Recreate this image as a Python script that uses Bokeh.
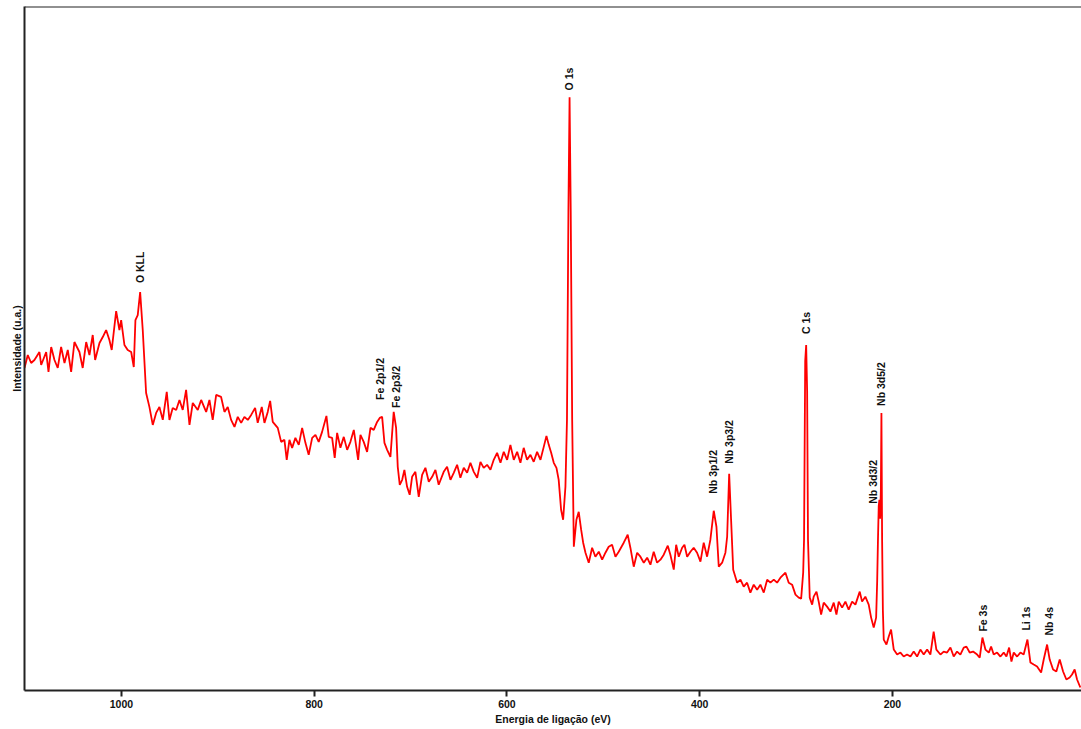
import math
from bokeh.plotting import figure
from bokeh.models import Range1d, FixedTicker, Span
from bokeh.core.properties import value
from bokeh.embed import file_html
from bokeh.resources import INLINE

# Binding energy (eV) and intensity (a.u.)
energy = [
    1100.6, 1097.2, 1093.7, 1090.3, 1085.1, 1083.3, 1078.1, 1075.7, 1072.9, 1069.5,
    1066.1, 1062.6, 1059.1, 1055.7, 1052.2, 1048.8, 1043.6, 1040.2, 1036.6, 1033.2,
    1029.8, 1027.3, 1022.8, 1019.4, 1015.9, 1012.5, 1010.1, 1005.5, 1002.1, 1000.3,
    996.9, 993.5, 989.9, 987.2, 985.5, 983.1, 980.6, 977.9, 974.4, 971.0,
    967.5, 964.0, 960.6, 957.1, 953.0, 950.2, 946.8, 943.2, 939.8, 936.4,
    932.9, 929.4, 926.0, 920.8, 917.3, 912.1, 908.7, 905.3, 901.7, 896.6,
    893.1, 889.7, 886.2, 882.7, 879.3, 875.8, 872.4, 868.9, 865.4, 861.3,
    858.6, 854.4, 851.6, 848.2, 845.7, 843.0, 837.8, 834.3, 830.9, 828.5,
    825.7, 822.9, 819.5, 816.0, 812.5, 809.1, 805.7, 802.1, 798.7, 795.3,
    791.8, 787.3, 784.9, 781.4, 778.7, 776.2, 772.8, 769.3, 765.8, 762.4,
    758.9, 754.4, 752.0, 748.6, 745.1, 741.6, 738.2, 734.7, 732.0, 729.5,
    727.1, 724.3, 720.9, 719.1, 717.5, 715.0, 713.3, 711.2, 708.7, 706.4,
    703.6, 700.9, 698.4, 695.0, 691.5, 688.0, 684.6, 681.1, 677.6, 674.2,
    670.8, 665.6, 662.1, 658.6, 655.2, 651.7, 648.3, 644.8, 641.3, 637.9,
    634.4, 630.9, 627.5, 624.1, 620.6, 617.1, 613.7, 610.2, 606.7, 603.3,
    599.8, 596.4, 592.9, 589.4, 586.0, 582.6, 579.1, 575.6, 572.2, 568.7,
    565.2, 561.8, 559.0, 556.6, 554.1, 551.4, 548.6, 546.3, 543.8, 541.7,
    539.3, 537.7, 536.2, 535.0, 533.8, 532.3, 530.6, 527.9, 525.5, 523.0,
    520.9, 518.5, 515.1, 511.6, 508.2, 504.7, 501.2, 497.8, 494.4, 490.9,
    487.4, 484.0, 478.8, 474.7, 471.9, 468.4, 464.9, 461.5, 458.0, 454.5,
    451.1, 447.7, 444.2, 440.7, 437.3, 433.1, 430.4, 426.9, 424.4, 421.7,
    418.2, 415.8, 413.0, 409.6, 406.2, 402.7, 399.2, 395.8, 392.3, 388.9,
    385.4, 382.6, 380.2, 376.7, 373.3, 371.5, 369.4, 367.4, 365.2, 361.1,
    357.7, 354.3, 350.8, 347.4, 343.9, 340.4, 337.0, 333.5, 330.0, 326.6,
    323.1, 319.7, 316.2, 311.0, 307.6, 304.1, 300.6, 297.2, 294.7, 292.6,
    291.7, 290.5, 289.5, 288.5, 287.6, 285.8, 283.3, 281.7, 278.8, 276.5,
    274.0, 271.3, 267.8, 264.3, 260.9, 258.1, 255.7, 252.2, 248.8, 245.4,
    241.8, 238.4, 233.9, 231.5, 228.1, 224.6, 222.1, 219.4, 216.9, 215.8,
    215.0, 214.2, 213.5, 212.8, 212.0, 211.4, 210.7, 209.9, 209.0, 206.2,
    203.8, 201.4, 198.6, 195.1, 191.7, 188.3, 184.8, 181.3, 177.9, 174.4,
    171.0, 167.5, 164.0, 160.6, 157.2, 154.4, 150.2, 146.8, 143.3, 139.8,
    136.4, 132.9, 129.5, 126.0, 123.2, 119.8, 116.3, 112.1, 109.4, 106.6,
    103.5, 100.0, 97.6, 94.9, 91.4, 87.9, 84.5, 81.7, 78.9, 76.5,
    74.1, 70.6, 67.2, 63.8, 59.9, 56.8, 53.4, 49.9, 45.7, 43.0,
    39.5, 36.8, 33.3, 29.9, 26.4, 22.9, 19.5, 16.1, 13.6, 10.9,
    8.4, 5.0,
]
intensity = [
    323, 336, 328, 331, 339, 326, 339, 319, 344, 331,
    323, 344, 328, 341, 319, 349, 339, 323, 349, 336,
    356, 331, 348, 354, 361, 351, 341, 380, 361, 371,
    346, 341, 339, 324, 371, 376, 399, 361, 298, 284,
    266, 278, 284, 271, 299, 271, 283, 281, 291, 281,
    301, 266, 288, 281, 291, 279, 291, 271, 296, 294,
    279, 284, 271, 264, 274, 268, 274, 271, 276, 283,
    268, 284, 268, 279, 290, 269, 263, 249, 251, 231,
    251, 243, 253, 246, 263, 248, 236, 253, 256, 249,
    259, 275, 254, 253, 233, 258, 243, 254, 241, 249,
    261, 231, 256, 249, 239, 263, 261, 269, 273, 274,
    248, 241, 234, 258, 279, 263, 224, 206, 211, 221,
    204, 196, 214, 219, 194, 216, 223, 209, 214, 221,
    206, 219, 224, 211, 218, 226, 213, 223, 218, 228,
    219, 213, 229, 223, 226, 221, 231, 238, 228, 239,
    231, 246, 231, 239, 228, 243, 231, 236, 229, 239,
    231, 244, 255, 246, 238, 228, 223, 211, 181, 171,
    204, 271, 480, 594, 480, 271, 144, 171, 179, 161,
    148, 138, 128, 143, 134, 139, 131, 138, 144, 146,
    134, 139, 148, 156, 143, 124, 138, 134, 128, 133,
    126, 139, 128, 131, 136, 145, 136, 121, 146, 134,
    143, 146, 134, 139, 143, 138, 129, 148, 134, 151,
    180, 164, 124, 128, 138, 154, 217, 171, 121, 108,
    111, 104, 108, 98, 106, 101, 106, 98, 111, 108,
    111, 108, 113, 118, 108, 106, 96, 93, 92, 118,
    151, 330, 346, 300, 151, 93, 86, 94, 99, 89,
    76, 88, 84, 79, 88, 76, 89, 83, 89, 81,
    89, 86, 99, 89, 94, 86, 73, 63, 73, 110,
    151, 185, 191, 172, 200, 278, 151, 80, 51, 46,
    54, 61, 41, 36, 38, 34, 36, 34, 39, 34,
    41, 36, 41, 36, 59, 41, 36, 39, 38, 43,
    34, 39, 36, 43, 44, 38, 39, 36, 33, 53,
    41, 38, 44, 36, 38, 34, 38, 34, 43, 29,
    38, 34, 38, 36, 51, 28, 26, 24, 18, 31,
    46, 31, 21, 19, 31, 19, 11, 13, 16, 21,
    11, 3,
]

# Peak assignments and where their labels sit
peak_names = ["O KLL", "O 1s", "Fe 2p1/2", "Fe 2p3/2", "Nb 3p1/2", "Nb 3p3/2",
              "C 1s", "Nb 3d5/2", "Nb 3d3/2", "Fe 3s", "Li 1s", "Nb 4s"]
label_energy = [980.3, 535.2, 732.1, 715.0, 386.3, 369.1,
                289.2, 211.4, 220.3, 106.1, 61.3, 38.0]
label_level = [408, 601, 291, 283, 197, 227,
               357, 285, 187, 59, 60, 55]

xticks = [1000, 800, 600, 400, 200]

FONT = "Liberation Sans"

p = figure(width=1081, height=727, output_backend="svg", toolbar_location=None,
           x_range=Range1d(1100.6, 3.8), y_range=Range1d(0, 685),
           min_border_left=24, min_border_right=0, min_border_top=6, min_border_bottom=0)

p.line(energy, intensity, line_color="#ff0000", line_width=1.8)

p.text(x=label_energy, y=label_level, text=peak_names, angle=math.pi / 2,
       text_align="left", text_baseline="middle",
       text_font=value(FONT), text_font_style="bold", text_font_size="10.5px",
       text_color="#111111")

p.grid.visible = False
p.outline_line_color = None
p.background_fill_color = "white"
p.border_fill_color = "white"

# top frame line
p.add_layout(Span(location=685, dimension="width", line_color="#222222", line_width=2))

xa = p.xaxis[0]
xa.ticker = FixedTicker(ticks=xticks)
xa.minor_tick_line_color = None
xa.major_tick_in = 0
xa.major_tick_out = 6
xa.major_tick_line_width = 2
xa.major_tick_line_color = "#222222"
xa.axis_line_width = 2
xa.axis_line_color = "#222222"
xa.major_label_text_font = FONT
xa.major_label_text_font_style = "bold"
xa.major_label_text_font_size = "10.5px"
xa.major_label_text_color = "#111111"
xa.major_label_standoff = 3
xa.axis_label = "Energia de ligação (eV)"
xa.axis_label_text_font = FONT
xa.axis_label_text_font_style = "bold"
xa.axis_label_text_font_size = "10.5px"
xa.axis_label_text_color = "#111111"
xa.axis_label_standoff = 2

ya = p.yaxis[0]
ya.ticker = FixedTicker(ticks=[])
ya.minor_tick_line_color = None
ya.major_tick_line_color = None
ya.major_tick_in = 0
ya.major_tick_out = 0
ya.major_label_standoff = 0
ya.axis_line_width = 2
ya.axis_line_color = "#222222"
ya.axis_label = "Intensidade (u.a.)"
ya.axis_label_text_font = FONT
ya.axis_label_text_font_style = "bold"
ya.axis_label_text_font_size = "10.5px"
ya.axis_label_text_color = "#111111"
ya.axis_label_standoff = 2

open("out.html", "w").write(file_html(p, INLINE))
